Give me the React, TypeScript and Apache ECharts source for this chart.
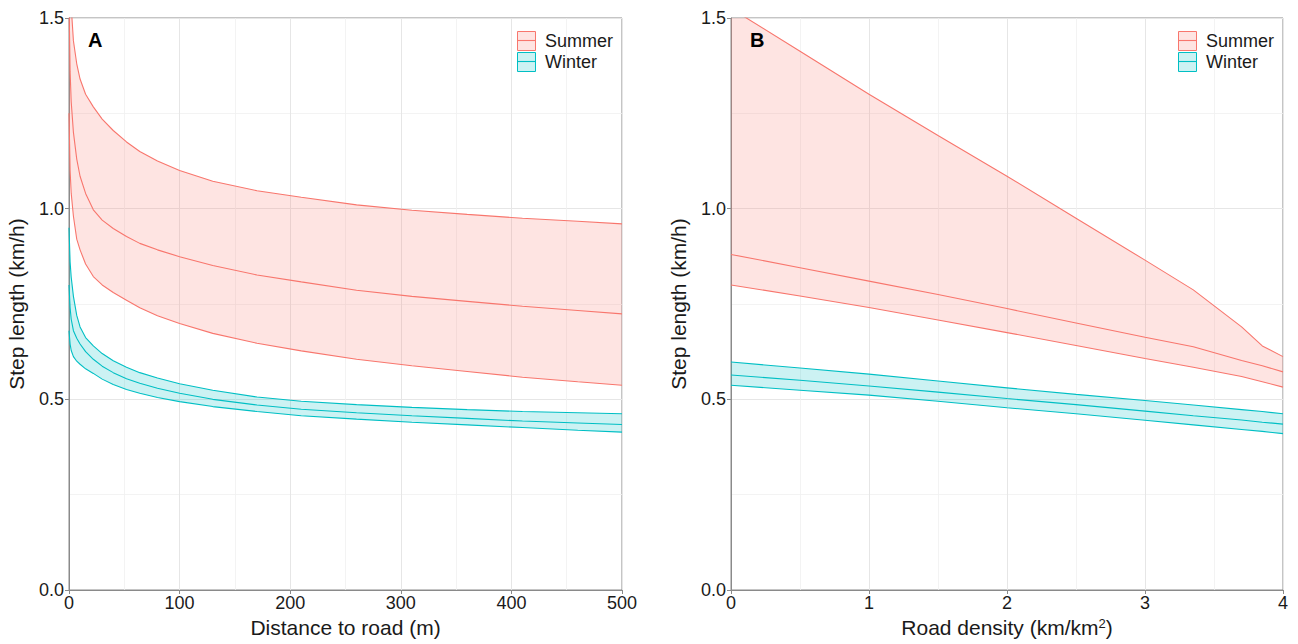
import React, { useEffect, useRef } from "react";
import * as echarts from "echarts";

// ---------- Panel A: distance to road (m) ----------
const distA = [0, 1, 2, 4, 7, 10, 15, 22, 30, 40, 52, 64, 80, 100, 130, 170, 210, 260, 310, 360, 410, 460, 500];
const summerUpperA = [1.95, 1.62, 1.53, 1.44, 1.38, 1.34, 1.30, 1.267, 1.235, 1.205, 1.175, 1.150, 1.125, 1.100, 1.072, 1.047, 1.030, 1.010, 0.996, 0.985, 0.975, 0.967, 0.960];
const summerMidA = [1.55, 1.36, 1.28, 1.20, 1.13, 1.085, 1.04, 0.997, 0.970, 0.948, 0.927, 0.909, 0.892, 0.874, 0.851, 0.826, 0.808, 0.786, 0.770, 0.757, 0.744, 0.733, 0.724];
const summerLowerA = [1.25, 1.10, 1.04, 0.98, 0.92, 0.892, 0.855, 0.822, 0.800, 0.780, 0.760, 0.740, 0.719, 0.699, 0.673, 0.647, 0.627, 0.605, 0.588, 0.573, 0.558, 0.546, 0.537];
const winterUpperA = [0.95, 0.86, 0.82, 0.77, 0.72, 0.69, 0.662, 0.640, 0.620, 0.601, 0.584, 0.570, 0.556, 0.541, 0.524, 0.506, 0.495, 0.486, 0.479, 0.473, 0.468, 0.465, 0.462];
const winterMidA = [0.80, 0.74, 0.71, 0.68, 0.66, 0.645, 0.625, 0.605, 0.587, 0.570, 0.554, 0.542, 0.529, 0.516, 0.500, 0.485, 0.474, 0.465, 0.457, 0.450, 0.443, 0.438, 0.434];
const winterLowerA = [0.68, 0.645, 0.628, 0.612, 0.600, 0.592, 0.580, 0.568, 0.553, 0.539, 0.526, 0.516, 0.505, 0.494, 0.481, 0.468, 0.457, 0.448, 0.440, 0.433, 0.426, 0.419, 0.414];

// ---------- Panel B: road density (km/km2) ----------
const densB = [0, 0.5, 1, 1.5, 2, 2.5, 3, 3.35, 3.7, 3.85, 4];
const summerUpperB = [1.525, 1.413, 1.300, 1.192, 1.085, 0.975, 0.865, 0.787, 0.690, 0.640, 0.612];
const summerMidB = [0.880, 0.845, 0.810, 0.775, 0.738, 0.700, 0.663, 0.638, 0.602, 0.588, 0.572];
const summerLowerB = [0.800, 0.771, 0.741, 0.708, 0.675, 0.641, 0.607, 0.584, 0.560, 0.546, 0.532];
const winterUpperB = [0.598, 0.582, 0.566, 0.548, 0.530, 0.513, 0.497, 0.485, 0.473, 0.468, 0.462];
const winterMidB = [0.564, 0.550, 0.535, 0.519, 0.502, 0.486, 0.469, 0.457, 0.446, 0.440, 0.435];
const winterLowerB = [0.537, 0.524, 0.511, 0.495, 0.478, 0.462, 0.445, 0.433, 0.421, 0.416, 0.410];

const yTicks = [0, 0.5, 1.0, 1.5];
const seasons = ["Summer", "Winter"];
const panelLabels = ["A", "B"];

const SUMMER = "#F8766D";
const WINTER = "#00BFC4";
const SUMMER_FILL = "rgba(248,118,109,0.2)";
const WINTER_FILL = "rgba(0,191,196,0.2)";
const FONT = "Liberation Sans, Arial, Helvetica, sans-serif";
const BORDER = "#8a8a8a";
const TICK_FS = 18;

function pairs(xs: number[], ys: number[]) {
  return xs.map((x, i) => [x, ys[i]]);
}

function bandSeries(
  idx: number,
  xs: number[],
  up: number[],
  mid: number[],
  lo: number[],
  color: string,
  fill: string
) {
  const lineCommon = {
    type: "line",
    xAxisIndex: idx,
    yAxisIndex: idx,
    showSymbol: false,
    symbol: "none",
    smooth: false,
    clip: true,
    silent: true,
    z: 3,
  };
  const band = {
    type: "custom",
    xAxisIndex: idx,
    yAxisIndex: idx,
    silent: true,
    z: 2,
    clip: true,
    data: xs.map((x, i) => [x, lo[i], up[i]]),
    encode: { x: 0, y: [1, 2] },
    renderItem: (params: any, api: any) => {
      if (params.dataIndex !== 0) return null;
      const pts: number[][] = [];
      for (let i = 0; i < xs.length; i++) pts.push(api.coord([xs[i], up[i]]));
      for (let i = xs.length - 1; i >= 0; i--) pts.push(api.coord([xs[i], lo[i]]));
      const cs = params.coordSys;
      return {
        type: "polygon",
        shape: { points: pts },
        style: { fill, stroke: "none" },
        clipPath: { type: "rect", shape: { x: cs.x, y: cs.y, width: cs.width, height: cs.height } },
      };
    },
  };
  return [
    band,
    { ...lineCommon, data: pairs(xs, up), lineStyle: { color, width: 1.1 } },
    { ...lineCommon, data: pairs(xs, mid), lineStyle: { color, width: 1.1 } },
    { ...lineCommon, data: pairs(xs, lo), lineStyle: { color, width: 1.1 } },
  ];
}

function legendGraphics(offsetX: number) {
  const items: any[] = [];
  const colors = [SUMMER, WINTER];
  const fills = [SUMMER_FILL, WINTER_FILL];
  seasons.forEach((s, i) => {
    const y = 31 + i * 21;
    items.push({
      type: "rect",
      left: 517 + offsetX,
      top: y,
      shape: { width: 18, height: 19 },
      style: { fill: fills[i], stroke: colors[i], lineWidth: 1 },
      z: 100,
    });
    items.push({
      type: "line",
      shape: { x1: 517 + offsetX, y1: y + 9.5, x2: 535 + offsetX, y2: y + 9.5 },
      style: { stroke: colors[i], lineWidth: 1.1 },
      z: 101,
    });
    items.push({
      type: "text",
      x: 545 + offsetX,
      y: y + 10,
      style: {
        text: s,
        fill: "#1a1a1a",
        font: `${TICK_FS}px ${FONT}`,
        verticalAlign: "middle",
      },
      z: 101,
    });
  });
  return items;
}

function xAxisBase(idx: number) {
  return {
    type: "value",
    gridIndex: idx,
    axisLine: { show: true, onZero: false, lineStyle: { color: BORDER, width: 1 } },
    axisTick: { show: true, length: 4, lineStyle: { color: BORDER } },
    axisLabel: { color: "#1a1a1a", fontSize: TICK_FS, fontFamily: FONT, margin: 4 },
    splitLine: { show: true, lineStyle: { color: "#e6e6e6", width: 1 } },
    minorTick: { show: false, splitNumber: 2 },
    minorSplitLine: { show: true, lineStyle: { color: "#f0f0f0", width: 0.8 } },
    nameLocation: "middle",
    nameGap: 27,
    nameTextStyle: { color: "#1a1a1a", fontSize: 21, fontFamily: FONT },
  };
}

function yAxisBase(idx: number) {
  return {
    type: "value",
    gridIndex: idx,
    min: yTicks[0],
    max: yTicks[yTicks.length - 1],
    interval: 0.5,
    name: "Step length (km/h)",
    nameLocation: "middle",
    nameGap: 42,
    nameRotate: 90,
    nameTextStyle: { color: "#1a1a1a", fontSize: 21, fontFamily: FONT },
    axisLine: { show: true, lineStyle: { color: BORDER, width: 1 } },
    axisTick: { show: true, length: 4, lineStyle: { color: BORDER } },
    axisLabel: {
      color: "#1a1a1a",
      fontSize: TICK_FS,
      fontFamily: FONT,
      margin: 5,
      formatter: (v: number) => v.toFixed(1),
    },
    splitLine: { show: true, lineStyle: { color: "#e6e6e6", width: 1 } },
    minorTick: { show: false, splitNumber: 2 },
    minorSplitLine: { show: true, lineStyle: { color: "#f0f0f0", width: 0.8 } },
  };
}

export default function App() {
  const ref = useRef<HTMLDivElement>(null);

  useEffect(() => {
    if (!ref.current) return;
    const chart = echarts.init(ref.current, undefined, { renderer: "svg" });

    const option: any = {
      animation: false,
      backgroundColor: "#ffffff",
      grid: [
        { left: 69, right: 676, top: 18, bottom: 54, show: true, borderColor: BORDER, borderWidth: 1, backgroundColor: "transparent" },
        { left: 731, right: 15, top: 18, bottom: 54, show: true, borderColor: BORDER, borderWidth: 1, backgroundColor: "transparent" },
      ],
      xAxis: [
        { ...xAxisBase(0), min: 0, max: 500, interval: 100, name: "Distance to road (m)" },
        {
          ...xAxisBase(1),
          min: 0,
          max: 4,
          interval: 1,
          name: "{a|Road density (km/km}{s|2}{a|)}",
          nameTextStyle: {
            color: "#1a1a1a",
            fontSize: 21,
            fontFamily: FONT,
            rich: {
              a: { fontSize: 21, fontFamily: FONT, color: "#1a1a1a" },
              s: { fontSize: 13, fontFamily: FONT, color: "#1a1a1a", verticalAlign: "top", lineHeight: 14 },
            },
          },
        },
      ],
      yAxis: [yAxisBase(0), yAxisBase(1)],
      series: [
        ...bandSeries(0, distA, summerUpperA, summerMidA, summerLowerA, SUMMER, SUMMER_FILL),
        ...bandSeries(0, distA, winterUpperA, winterMidA, winterLowerA, WINTER, WINTER_FILL),
        ...bandSeries(1, densB, summerUpperB, summerMidB, summerLowerB, SUMMER, SUMMER_FILL),
        ...bandSeries(1, densB, winterUpperB, winterMidB, winterLowerB, WINTER, WINTER_FILL),
      ],
      graphic: [
        ...legendGraphics(0),
        ...legendGraphics(661),
        {
          type: "text",
          x: 88,
          y: 40,
          style: { text: panelLabels[0], fill: "#000", font: `bold 20px ${FONT}`, verticalAlign: "middle" },
          z: 101,
        },
        {
          type: "text",
          x: 750,
          y: 40,
          style: { text: panelLabels[1], fill: "#000", font: `bold 20px ${FONT}`, verticalAlign: "middle" },
          z: 101,
        },
      ],
    };

    chart.setOption(option);
    return () => chart.dispose();
  }, []);

  return (
    <div
      ref={ref}
      style={{ position: "fixed", left: 0, top: 0, width: 1298, height: 644, background: "#fff" }}
    />
  );
}
